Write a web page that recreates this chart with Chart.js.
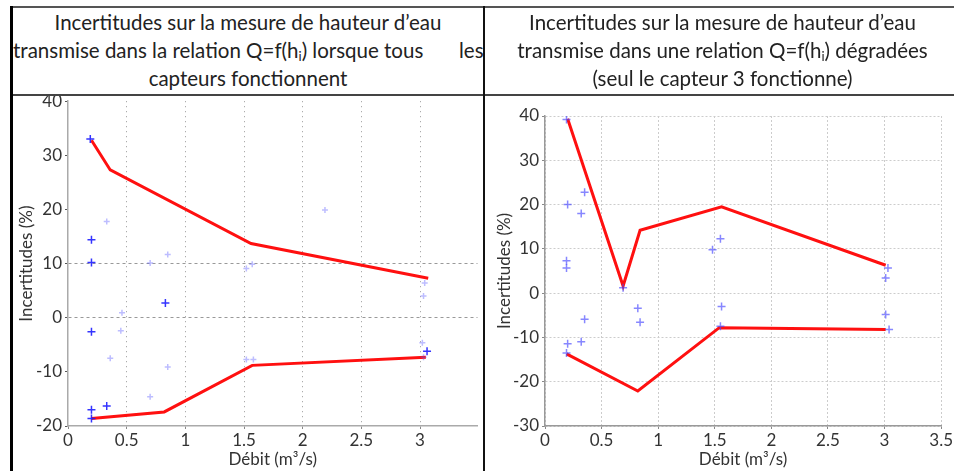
<!DOCTYPE html>
<html>
<head>
<meta charset="utf-8">
<script src="https://cdn.jsdelivr.net/npm/chart.js@4.4.1/dist/chart.umd.min.js"></script>
<style>
  body { margin:0; width:954px; height:471px; overflow:hidden; background:#fff; position:relative; font-family:Lato, "Open Sans", sans-serif; }
  .rule { position:absolute; }
  .hdr { position:absolute; top:8px; height:86px; background:#fff; color:#222; font-size:20.5px; line-height:28px; overflow:hidden; z-index:2; white-space:nowrap; }
  .hdr div { text-align:center; }
  .hdr sub { font-size:13px; vertical-align:-3px; line-height:0; }
  .panel { position:absolute; }
</style>
</head>
<body>

<div class="hdr" style="left:13px;width:470px;">
  <div>Incertitudes sur la mesure de hauteur d’eau</div>
  <div style="text-align:left;position:relative;">transmise dans la relation Q=f(h<sub>i</sub>) lorsque tous<span style="position:absolute;left:446px;">les</span></div>
  <div>capteurs fonctionnent</div>
</div>
<div class="hdr" style="left:485px;width:475px;">
  <div>Incertitudes sur la mesure de hauteur d’eau</div>
  <div>transmise dans une relation Q=f(h<sub>i</sub>) dégradées</div>
  <div>(seul le capteur 3 fonctionne)</div>
</div>

<div class="panel" style="left:13px;top:88px;"><canvas id="left" width="470" height="383"></canvas></div>
<div class="panel" style="left:486px;top:96px;"><canvas id="right" width="468" height="375"></canvas></div>

<div class="rule" style="left:10px;top:6px;width:944px;height:2px;background:#555;z-index:3"></div>
<div class="rule" style="left:10px;top:94px;width:944px;height:2px;background:#444;z-index:3"></div>
<div class="rule" style="left:10px;top:6px;width:3px;height:465px;background:#000;z-index:3"></div>
<div class="rule" style="left:483px;top:6px;width:2px;height:465px;background:#111;z-index:3"></div>

<script>
// débit (m3/s) / incertitude (%) — all sensors working
const allUpperQ = [0.2, 0.36, 1.56, 3.07];
const allUpper  = [32.8, 27.3, 13.7, 7.3];
const allLowerQ = [0.2, 0.82, 1.57, 3.05];
const allLower  = [-18.6, -17.4, -8.8, -7.3];
const allPtsQ   = [0.19, 0.2, 0.2, 0.83, 0.2, 0.2, 0.33, 3.06, 0.2];
const allPts    = [33, 14.4, 10.2, 2.7, -2.6, -17, -16.3, -6.2, -18.6];
const allFaintQ = [0.33, 0.7, 0.85, 0.46, 0.45, 0.36, 0.85, 0.7, 1.52, 1.57, 2.19, 3.04, 3.03, 3.02, 1.52, 1.58, 3.03];
const allFaint  = [17.8, 10.1, 11.7, 0.9, -2.4, -7.5, -9.1, -14.6, 9.1, 9.9, 19.9, 6.4, 4.0, -4.6, -7.7, -7.7, -7.3];

// only sensor 3 working
const degUpperQ = [0.2, 0.69, 0.84, 1.56, 3.01];
const degUpper  = [39.4, 1.6, 14.2, 19.5, 6.3];
const degLowerQ = [0.19, 0.82, 1.54, 3.01];
const degLower  = [-13.7, -22.1, -7.8, -8.2];
const degPtsQ   = [0.19, 0.2, 0.35, 0.32, 0.19, 0.19, 0.35, 0.2, 0.32, 0.19, 0.82, 0.84, 0.69, 1.48, 1.55, 1.56, 1.55, 3.03, 3.01, 3.01, 3.04];
const degPts    = [39.2, 20, 22.8, 18, 7.3, 5.7, -5.9, -11.4, -11, -13.5, -3.4, -6.6, 1.2, 9.8, 12.3, -3.0, -7.5, 5.7, 3.4, -4.8, -8.2];

const xy = (xs, ys) => xs.map((x, i) => ({x, y: ys[i]}));
const tickFont = {family: 'Lato', size: 17};
const titleFont = {family: 'Lato', size: 17};
const fmt = v => String(+v.toFixed(1));
const red = line => ({type: 'line', data: line, borderColor: '#ff1010', borderWidth: 3, pointRadius: 0, showLine: true, tension: 0, order: 2});
const plus = (pts, color, r) => ({type: 'scatter', data: pts, pointStyle: 'cross', pointRadius: r, borderColor: color, borderWidth: 1.5, order: 1});

function yTitle(pad) {
  return {display: true, text: 'Incertitudes (%)', color: '#333', font: titleFont, padding: {top: pad, bottom: 0}};
}
const xTitle = {display: true, text: 'Débit (m³/s)', color: '#333', font: titleFont, padding: {top: 0, bottom: 1}};

new Chart(document.getElementById('left'), {
  type: 'scatter',
  data: {datasets: [
    red(xy(allUpperQ, allUpper)),
    red(xy(allLowerQ, allLower)),
    plus(xy(allPtsQ, allPts), 'rgba(30,30,255,0.9)', 4),
    plus(xy(allFaintQ, allFaint), 'rgba(90,90,255,0.4)', 3)
  ]},
  options: {
    responsive: false, animation: false, devicePixelRatio: 1,
    layout: {padding: {top: 10, right: 0, bottom: 0, left: 0}},
    plugins: {legend: {display: false}, tooltip: {enabled: false}},
    scales: {
      x: {
        type: 'linear', min: 0, max: 3.49,
        ticks: {stepSize: 0.5, includeBounds: false, color: '#333', font: tickFont, padding: 1, maxRotation: 0, callback: fmt},
        grid: {color: c => c.tick && c.tick.value > 0 ? '#999' : 'transparent', tickColor: '#888', tickLength: 3},
        border: {color: '#aaa', width: 1.5, dash: [1, 4]},
        title: xTitle,
        afterFit: s => { s.height = 45; }
      },
      y: {
        min: -20, max: 40,
        ticks: {stepSize: 10, color: '#333', font: tickFont, padding: 3},
        grid: {color: c => c.tick && (c.tick.value === 10 || c.tick.value === 0) ? '#999' : 'transparent', tickColor: '#555', tickLength: 3},
        border: {color: '#aaa', width: 1.5, dash: [3, 3]},
        title: yTitle(3),
        afterFit: s => { s.width = 55; }
      }
    }
  }
});

new Chart(document.getElementById('right'), {
  type: 'scatter',
  data: {datasets: [
    red(xy(degUpperQ, degUpper)),
    red(xy(degLowerQ, degLower)),
    plus(xy(degPtsQ, degPts), 'rgba(70,70,255,0.65)', 4)
  ]},
  options: {
    responsive: false, animation: false, devicePixelRatio: 1,
    layout: {padding: {top: 20, right: 8, bottom: 0, left: 0}},
    plugins: {legend: {display: false}, tooltip: {enabled: false}},
    scales: {
      x: {
        type: 'linear', min: 0, max: 3.5,
        ticks: {stepSize: 0.5, color: '#333', font: tickFont, padding: 1, maxRotation: 0, callback: fmt},
        grid: {color: '#ccc', tickColor: '#888', tickLength: 3},
        border: {color: '#999', width: 1.5, dash: [2, 2]},
        title: xTitle,
        afterFit: s => { s.height = 45; }
      },
      y: {
        min: -30, max: 40,
        ticks: {stepSize: 10, color: '#333', font: tickFont, padding: 3},
        grid: {color: '#ccc', tickColor: '#888', tickLength: 3},
        border: {color: '#999', width: 1.5, dash: [2, 2]},
        title: yTitle(8),
        afterFit: s => { s.width = 59; }
      }
    }
  }
});
</script>
</body>
</html>
